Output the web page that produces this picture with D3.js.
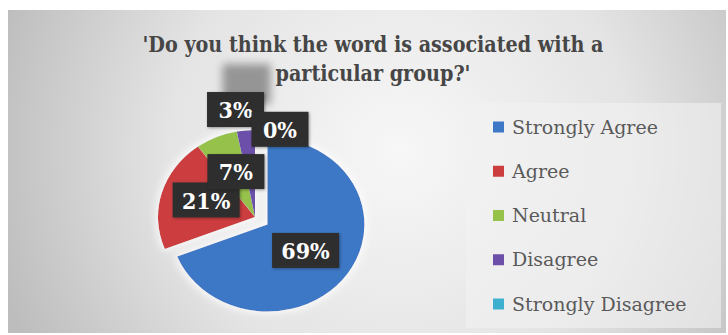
<!DOCTYPE html>
<html>
<head>
<meta charset="utf-8">
<script src="https://cdn.jsdelivr.net/npm/d3@7"></script>
<style>
  body { margin: 0; background: #fff; }
  svg { display: block; }
  .serif { font-family: "DejaVu Serif Condensed", "DejaVu Serif", serif; font-stretch: condensed; }
  .legendText { font-family: "DejaVu Serif", serif; }
</style>
</head>
<body>
<svg id="chart" width="728" height="335"></svg>
<script>
// data
const categories = ["Strongly Agree", "Agree", "Neutral", "Disagree", "Strongly Disagree"]
const shares = [69, 21, 7, 3, 0]
const sliceColors = ["#3d78c6", "#cc3d3f", "#96c24c", "#6c4fa8", "#3fafd0"]
const titleLines = ["'Do you think the word is associated with a", "particular group?'"]

// label nudges from the slice centroid, in px
const labelNudge = [[-10, -3], [7, -2], [4, 3], [-14, -55], [25, -35]]

const width = 728, height = 335
const svg = d3.select("#chart")
const defs = svg.append("defs")

const bg = defs.append("radialGradient")
    .attr("id", "bg")
    .attr("gradientUnits", "userSpaceOnUse")
    .attr("cx", 400).attr("cy", 150).attr("r", 420)
bg.append("stop").attr("offset", 0).attr("stop-color", "#f7f7f7")
bg.append("stop").attr("offset", 0.55).attr("stop-color", "#e4e4e4")
bg.append("stop").attr("offset", 1).attr("stop-color", "#bdbdbd")

const glow = defs.append("filter").attr("id", "glow")
    .attr("x", "-20%").attr("y", "-20%").attr("width", "140%").attr("height", "140%")
glow.append("feMorphology").attr("in", "SourceAlpha").attr("operator", "dilate").attr("radius", 2).attr("result", "d")
glow.append("feGaussianBlur").attr("in", "d").attr("stdDeviation", 4).attr("result", "b")
glow.append("feFlood").attr("flood-color", "#ffffff").attr("flood-opacity", 0.8)
glow.append("feComposite").attr("in2", "b").attr("operator", "in").attr("result", "g")
const gm = glow.append("feMerge")
gm.append("feMergeNode").attr("in", "g")
gm.append("feMergeNode").attr("in", "SourceGraphic")

const soft = defs.append("filter").attr("id", "soft")
    .attr("x", "-50%").attr("y", "-50%").attr("width", "200%").attr("height", "200%")
soft.append("feGaussianBlur").attr("stdDeviation", 4)

const boxShadow = defs.append("filter").attr("id", "boxShadow")
    .attr("x", "-30%").attr("y", "-30%").attr("width", "160%").attr("height", "160%")
boxShadow.append("feDropShadow").attr("dx", 1).attr("dy", 1).attr("stdDeviation", 1.5)
    .attr("flood-color", "#000").attr("flood-opacity", 0.35)

// chart area
svg.append("rect")
    .attr("x", 8).attr("y", 10)
    .attr("width", width - 10).attr("height", height - 12)
    .attr("fill", "url(#bg)")

// pie
const r = 97
const squash = 0.897
const cx = 255, cy = 217
const explode = [15, 0, 0, 0, 0]

const pie = d3.pie().sort(null).value(d => d)
const arcs = pie(shares)
const arc = d3.arc().innerRadius(0).outerRadius(r)

const offsetOf = (a, i) => {
  const mid = (a.startAngle + a.endAngle) / 2
  return [Math.sin(mid) * explode[i], -Math.cos(mid) * explode[i]]
}

const pieG = svg.append("g")
    .attr("transform", `translate(${cx},${cy}) scale(1,${squash})`)
    .attr("filter", "url(#glow)")

pieG.selectAll("path")
  .data(arcs)
  .join("path")
    .attr("transform", (d, i) => `translate(${offsetOf(d, i)})`)
    .attr("d", arc)
    .attr("fill", (d, i) => sliceColors[i])

// data labels
const labelArc = d3.arc().innerRadius(r * 0.6).outerRadius(r * 0.6)
const labelG = svg.append("g").attr("class", "serif")

const labels = labelG.selectAll("g.lbl")
  .data(arcs)
  .join("g")
    .attr("class", "lbl")
    .attr("transform", (d, i) => {
      const c = labelArc.centroid(d)
      const o = offsetOf(d, i)
      const x = cx + c[0] + o[0] + labelNudge[i][0]
      const y = cy + (c[1] + o[1]) * squash + labelNudge[i][1]
      return `translate(${x},${y})`
    })

// blurred grey ghost above the Disagree label
labelG.select("g.lbl:nth-child(4)")
  .insert("rect", ":first-child")
    .attr("x", -13).attr("y", -46)
    .attr("width", 48).attr("height", 40)
    .attr("fill", "#959595")
    .attr("filter", "url(#soft)")

labels.each(function(d, i) {
  const g = d3.select(this)
  const t = `${shares[i]}%`
  const w = t.length > 2 ? 67 : 57
  g.append("rect")
      .attr("x", -w / 2).attr("y", -18)
      .attr("width", w).attr("height", 35)
      .attr("fill", "#2e2e2e")
      .attr("filter", "url(#boxShadow)")
  g.append("text")
      .attr("text-anchor", "middle")
      .attr("dy", "0.36em")
      .attr("font-size", 23)
      .attr("font-weight", "bold")
      .attr("fill", "#ffffff")
      .text(t)
})

// title
const titleWidths = [461, 195]
svg.append("g")
    .attr("class", "serif")
    .selectAll("text")
    .data(titleLines)
    .join("text")
      .attr("x", 373)
      .attr("y", (d, i) => 52 + i * 29)
      .attr("text-anchor", "middle")
      .attr("font-size", 22)
      .attr("font-weight", "bold")
      .attr("fill", "#464646")
      .attr("textLength", (d, i) => titleWidths[i])
      .attr("lengthAdjust", "spacingAndGlyphs")
      .text(d => d)

// legend
svg.append("rect")
    .attr("x", 466).attr("y", 103)
    .attr("width", 255).attr("height", 225)
    .attr("fill", "#f2f2f2").attr("fill-opacity", 0.6)

const ly = d3.scalePoint().domain(categories).range([127, 304])

const legend = svg.append("g").attr("class", "legendText")
  .selectAll("g")
  .data(categories)
  .join("g")
    .attr("transform", d => `translate(493,${ly(d)})`)

legend.append("rect")
    .attr("x", 0).attr("y", -5.5)
    .attr("width", 11).attr("height", 11)
    .attr("fill", (d, i) => sliceColors[i])

legend.append("text")
    .attr("x", 19)
    .attr("dy", "0.35em")
    .attr("font-size", 19)
    .attr("fill", "#5a5a5a")
    .text(d => d)
</script>
</body>
</html>
